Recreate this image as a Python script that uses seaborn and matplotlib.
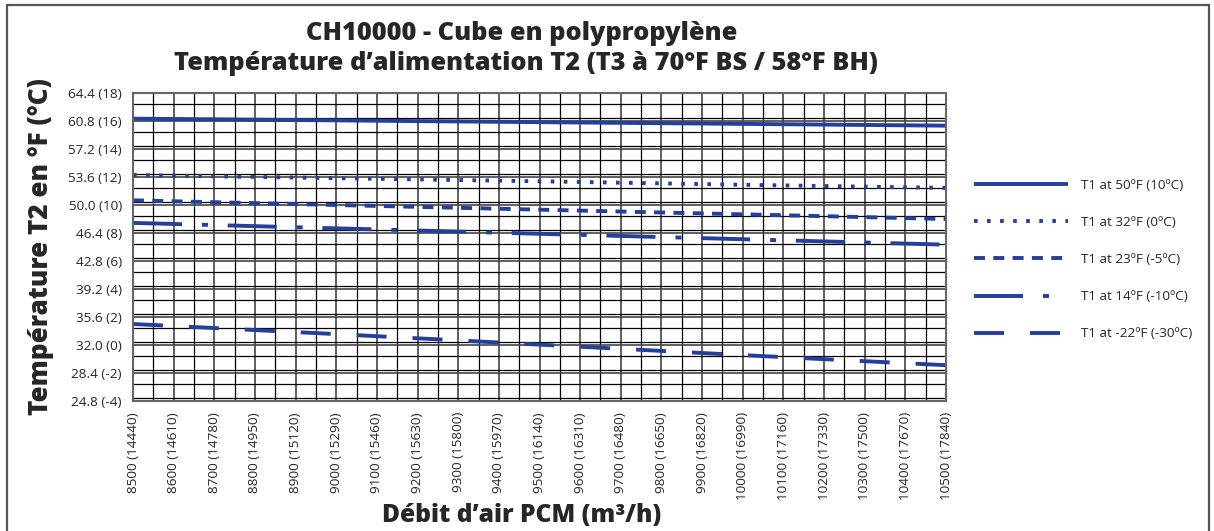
import matplotlib
matplotlib.use("Agg")
import matplotlib.pyplot as plt
import matplotlib.ticker as mticker
from matplotlib.patches import Rectangle
import seaborn as sns
import pandas as pd

# data
airflow_cfm = [8500, 9000, 9500, 10000, 10500]
t1_50F = [61.1, 60.88, 60.65, 60.43, 60.2]
t1_32F = [53.85, 53.45, 53.05, 52.6, 52.2]
t1_23F = [50.6, 50.0, 49.4, 48.8, 48.2]
t1_14F = [47.7, 47.0, 46.3, 45.6, 44.9]
t1_m22F = [34.7, 33.4, 32.05, 30.7, 29.4]

series_labels = ["T1 at 50ºF (10ºC)", "T1 at 32ºF (0ºC)", "T1 at 23ºF (-5ºC)",
                 "T1 at 14ºF (-10ºC)", "T1 at -22ºF (-30ºC)"]

x_ticks = list(range(8500, 10501, 100))
cmh = [14440, 14610, 14780, 14950, 15120, 15290, 15460, 15630, 15800, 15970, 16140,
       16310, 16480, 16650, 16820, 16990, 17160, 17330, 17500, 17670, 17840]
x_ticklabels = [f"{c} ({m})" for c, m in zip(x_ticks, cmh)]

y_ticks = [24.8, 28.4, 32.0, 35.6, 39.2, 42.8, 46.4, 50.0, 53.6, 57.2, 60.8, 64.4]
y_celsius = [-4, -2, 0, 2, 4, 6, 8, 10, 12, 14, 16, 18]
y_ticklabels = [f"{f:.1f} ({c})" for f, c in zip(y_ticks, y_celsius)]

frames = []
for lab, vals in zip(series_labels, [t1_50F, t1_32F, t1_23F, t1_14F, t1_m22F]):
    frames.append(pd.DataFrame({"cfm": airflow_cfm, "temp": vals, "serie": lab}))
df = pd.concat(frames, ignore_index=True)

sns.set_style("white")
plt.rcParams["font.family"] = ["Open Sans", "DejaVu Sans"]
plt.rcParams["lines.scale_dashes"] = False

blue = "#22409a"
dash_styles = {
    series_labels[0]: "",
    series_labels[1]: (2.6, 6.8),
    series_labels[2]: (7.9, 6.0),
    series_labels[3]: (35.3, 14.4, 4.3, 14.2),
    series_labels[4]: (21.6, 18.7),
}

W, H = 1214, 531
fig = plt.figure(figsize=(W / 100, H / 100), dpi=100)
ax = fig.add_axes([133 / W, 1 - 401 / H, 813 / W, 308 / H])

sns.lineplot(data=df, x="cfm", y="temp", hue="serie", style="serie",
             hue_order=series_labels, style_order=series_labels,
             palette=[blue] * 5, dashes=dash_styles, linewidth=2.8,
             errorbar=None, legend=False, ax=ax)
for ln in ax.lines:
    ln.set_dash_capstyle("butt")
    ln.set_solid_capstyle("butt")

tick_fs = 9.7
ax.set_xlim(8500, 10500)
ax.set_ylim(24.8, 64.4)
ax.set_xticks(x_ticks)
ax.set_xticklabels(x_ticklabels, rotation=90, fontsize=tick_fs)
ax.set_yticks(y_ticks)
ax.set_yticklabels(y_ticklabels, fontsize=tick_fs)
ax.xaxis.set_minor_locator(mticker.MultipleLocator(50))
ax.yaxis.set_minor_locator(mticker.MultipleLocator(1.8))
ax.tick_params(which="both", length=0)
ax.tick_params(axis="x", pad=8)
ax.tick_params(axis="y", pad=8)
ax.grid(which="major", color="#444444", linewidth=1.2)
ax.grid(which="minor", color="black", linewidth=0.9)
ax.set_axisbelow(True)
for sp in ax.spines.values():
    sp.set_color("#666666")
    sp.set_linewidth(1.5)
ax.set_xlabel("")
ax.set_ylabel("")

title_kw = dict(ha="center", va="center", fontsize=18.3, fontweight=800)
fig.text(522 / W, 1 - 33 / H, "CH10000 - Cube en polypropylène", **title_kw)
fig.text(526 / W, 1 - 63 / H, "Température d’alimentation T2 (T3 à 70°F BS / 58°F BH)", **title_kw)
fig.text(41 / W, 1 - 247 / H, "Température T2 en °F (°C)", rotation=90, ha="center",
         va="center", fontsize=18.8, fontweight=800)
fig.text(522 / W, 1 - 516 / H, "Débit d’air PCM (m³/h)", ha="center", va="center",
         fontsize=17.7, fontweight=800)

ax.legend(ax.lines, series_labels, loc="upper left", bbox_to_anchor=(969 / W, 1 - 173.5 / H),
          bbox_transform=fig.transFigure, frameon=False, fontsize=tick_fs,
          handlelength=6.98, handletextpad=0.9, labelspacing=1.79, borderaxespad=0)

fig.patches.append(Rectangle((7 / W, -0.01), 1202 / W, 1 - 5 / H + 0.01, transform=fig.transFigure,
                             fill=False, edgecolor="#555555", linewidth=1.6))

fig.savefig("out.png", dpi=100)
